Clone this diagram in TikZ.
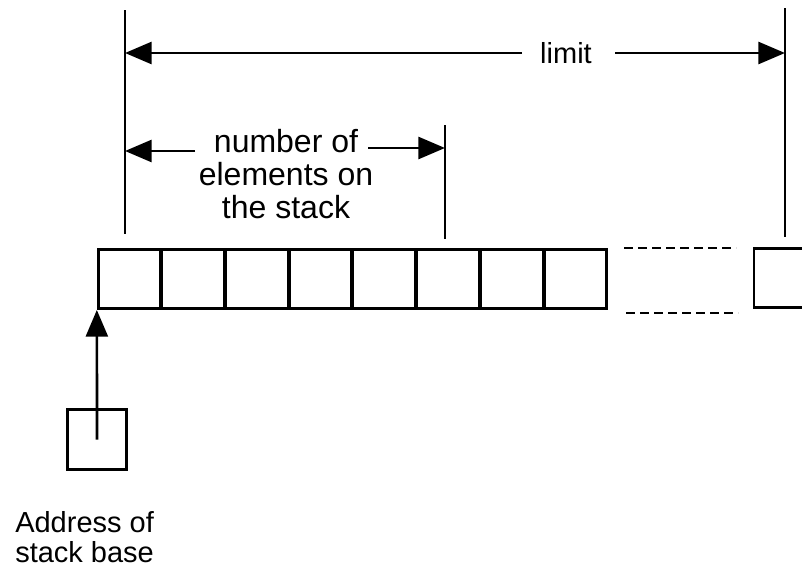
\documentclass[tikz,border=0pt]{standalone}
\usepackage{fontspec}
\setmainfont{Liberation Sans}
\usetikzlibrary{arrows.meta, positioning}

\begin{document}
\begin{tikzpicture}[x=0.75pt, y=-0.75pt]
    \tikzstyle{cell} = [rectangle, draw, line width=2pt, inner sep=0pt, outer sep=1pt, minimum width=46.7pt, minimum height=44.5pt]
    \tikzstyle{txt} = [font=\fontsize{21.75}{22.5}\selectfont, inner sep=0pt]
    \tikzstyle{line} = [draw, line width=1.5pt]
    \tikzstyle{arrow} = [draw, line width=2pt, -{Triangle[length=20pt, width=16.5pt]}]
    \tikzstyle{gap} = [draw, line width=2pt, dash pattern=on 6.5pt off 4pt]

    \clip (0,0) rectangle (802,565);

    \node [cell] (c1) at (129.3,279) {};
    \foreach \i [count=\j from 2] in {1,...,7}
        \node [cell, right=-0.9pt of c\i] (c\j) {};
    \node [cell] (cn) at (785,278) {};
    \node [cell, minimum width=44.5pt, minimum height=45.25pt] (sb) at (97,439.5) {};

    \node [txt, anchor=base] (limit) at (566,63) {limit};
    \node [txt, anchor=north, align=center, font=\fontsize{24}{24.75}\selectfont] (num) at (286,128.7) {number of\\elements on\\the stack};
    \node [txt, anchor=north west, align=left] (addr) at (15,511) {Address of\\stack base};

    \coordinate (top1) at (125,10);
    \coordinate (bot1) at (125,234);
    \coordinate (top6) at (445,125);
    \coordinate (bot6) at (445,239);
    \coordinate (topn) at (785,8);
    \coordinate (botn) at (785,237);
    \coordinate (limL) at (125,53);
    \coordinate (limA) at (522,53);
    \coordinate (limB) at (615,53);
    \coordinate (limR) at (785,53);
    \coordinate (numL) at (125,151);
    \coordinate (numA) at (195,151);
    \coordinate (numB) at (368,148);
    \coordinate (numR) at (445,148);
    \coordinate (dt1) at (624,248);
    \coordinate (dt2) at (736,248);
    \coordinate (db1) at (626,313);
    \coordinate (db2) at (738,313);

    \path [line] (top1) -- (bot1);
    \path [line] (top6) -- (bot6);
    \path [line] (topn) -- (botn);
    \path [arrow] (limA) -- (limL);
    \path [arrow] (limB) -- (limR);
    \path [arrow] (numA) -- (numL);
    \path [arrow] (numB) -- (numR);
    \path [gap] (dt1) -- (dt2);
    \path [gap] (db1) -- (db2);
    \path [arrow] (sb.center) -- (c1.south west);
\end{tikzpicture}
\end{document}
